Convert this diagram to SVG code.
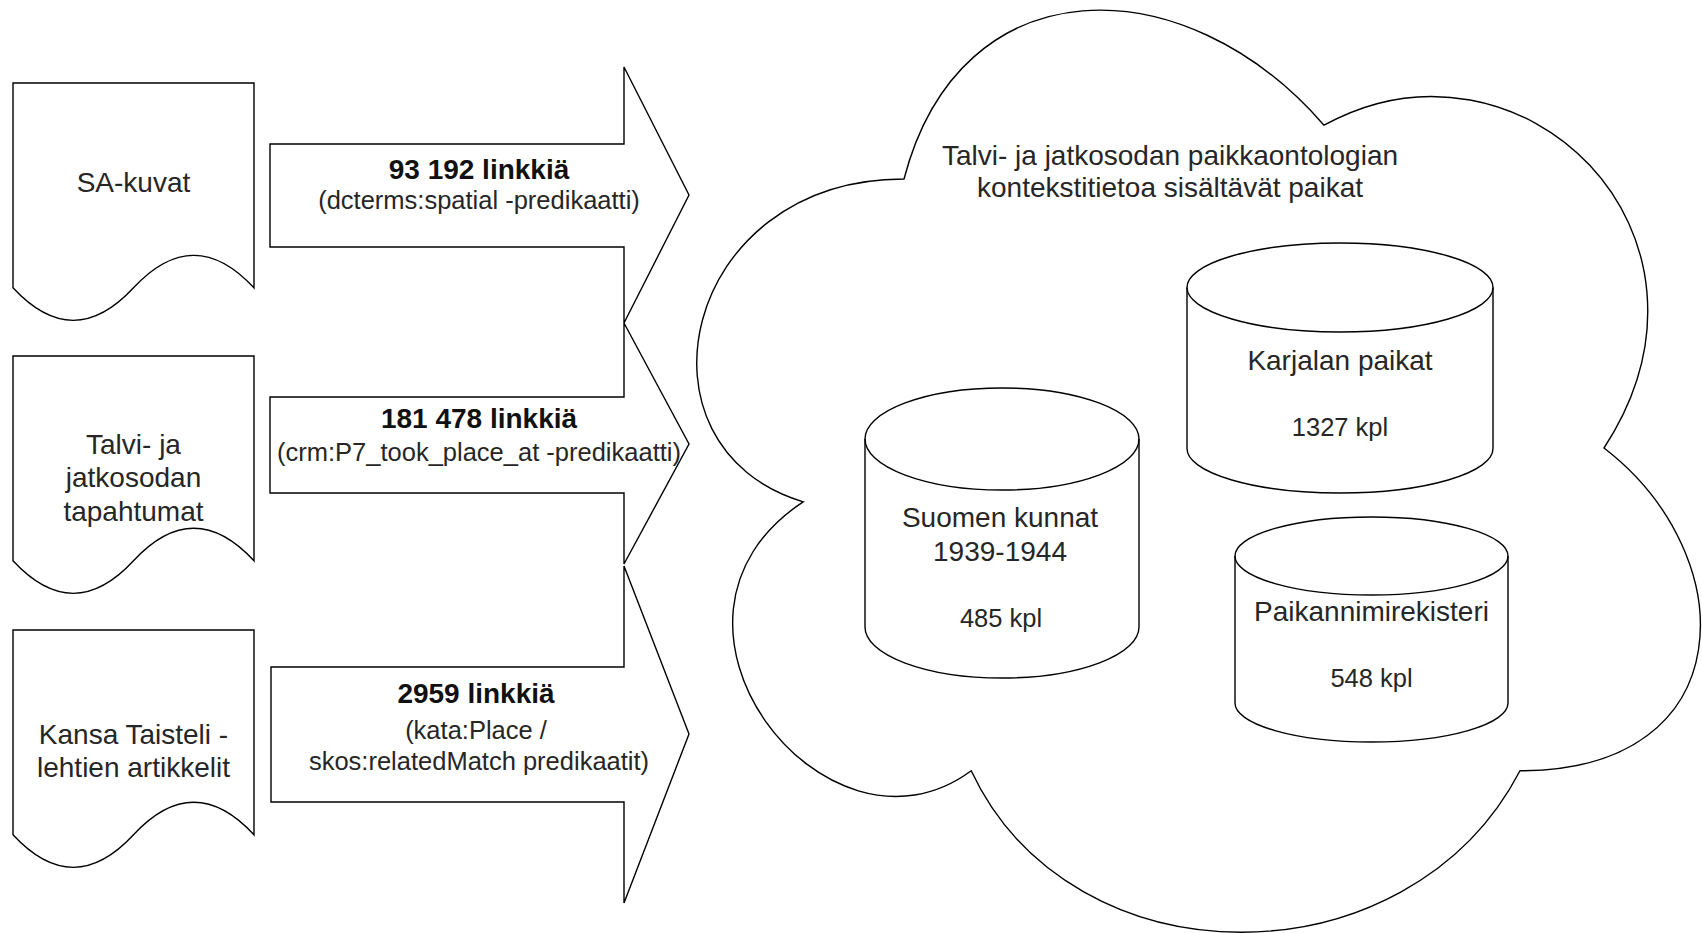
<svg xmlns="http://www.w3.org/2000/svg" width="1702" height="933" viewBox="0 0 1702 933">
<style>
.shape{fill:#ffffff;stroke:#000000;stroke-width:1.4;stroke-linejoin:miter}
.line{fill:none;stroke:#000000;stroke-width:1.4}
.t{font-family:"Liberation Sans",Arial,Helvetica,sans-serif;font-size:28px;fill:#262626;text-anchor:middle}
.b{font-family:"Liberation Sans",Arial,Helvetica,sans-serif;font-size:28px;font-weight:bold;fill:#111111;text-anchor:middle}
.s{font-family:"Liberation Sans",Arial,Helvetica,sans-serif;font-size:25.5px;fill:#262626;text-anchor:middle}
</style>
<rect x="0" y="0" width="1702" height="933" fill="#ffffff"/>

<g id="cloud">
<path class="shape" d="M904,179 C680,179 624,448 803.2,501.8 C624,620.16 825.6,878.4 971.2,770.8 C1072,986 1408,986 1520,770.8 C1744,770.8 1744,555.6 1604,448 C1744,232.8 1520,17.6 1324,125.2 C1184,-36.2 960,-36.2 904,179 Z"/>
<text class="t" x="1170" y="165">Talvi- ja jatkosodan paikkaontologian</text>
<text class="t" x="1170" y="197">kontekstitietoa sisältävät paikat</text>
</g>

<g id="karjalan-paikat">
<path class="shape" d="M1187,287.5 A153,44.5 0 0 1 1493,287.5 L1493,448.5 A153,44.5 0 0 1 1187,448.5 Z"/>
<path class="line" d="M1187,287.5 A153,44.5 0 0 0 1493,287.5"/>
<text class="t" x="1340" y="370">Karjalan paikat</text>
<text class="s" x="1340" y="436">1327 kpl</text>
</g>

<g id="suomen-kunnat">
<path class="shape" d="M865,439 A137,51 0 0 1 1139,439 L1139,627 A137,51 0 0 1 865,627 Z"/>
<path class="line" d="M865,439 A137,51 0 0 0 1139,439"/>
<text class="t" x="1000" y="527">Suomen kunnat</text>
<text class="t" x="1000" y="561">1939-1944</text>
<text class="s" x="1001" y="627">485 kpl</text>
</g>

<g id="paikannimirekisteri">
<path class="shape" d="M1235,556 A136.5,39 0 0 1 1508,556 L1508,703 A136.5,39 0 0 1 1235,703 Z"/>
<path class="line" d="M1235,556 A136.5,39 0 0 0 1508,556"/>
<text class="t" x="1371.5" y="621">Paikannimirekisteri</text>
<text class="s" x="1371.5" y="687">548 kpl</text>
</g>

<g id="sa-kuvat">
<path class="shape" d="M13,83 L254,83 L254,287.85 Q193.75,222.8 133.5,287.85 Q73.25,352.9 13,287.85 Z"/>
<text class="t" x="133.5" y="192">SA-kuvat</text>
</g>

<g id="tapahtumat">
<path class="shape" d="M13,356 L254,356 L254,560.85 Q193.75,495.8 133.5,560.85 Q73.25,625.9 13,560.85 Z"/>
<text class="t" x="133.5" y="454">Talvi- ja</text>
<text class="t" x="133.5" y="487">jatkosodan</text>
<text class="t" x="133.5" y="521">tapahtumat</text>
</g>

<g id="kansa-taisteli">
<path class="shape" d="M13,630 L254,630 L254,834.85 Q193.75,769.8 133.5,834.85 Q73.25,899.9 13,834.85 Z"/>
<text class="t" x="133.5" y="744">Kansa Taisteli -</text>
<text class="t" x="133.5" y="777">lehtien artikkelit</text>
</g>

<g id="connectors">
<g id="arrow-sa-kuvat">
<path class="shape" d="M270,144 L624,144 L624,67 L689,195 L624,323 L624,247 L270,247 Z"/>
<text class="b" x="479" y="179">93 192 linkkiä</text>
<text class="s" x="479" y="209">(dcterms:spatial -predikaatti)</text>
</g>
<g id="arrow-tapahtumat">
<path class="shape" d="M270,397 L624,397 L624,323 L689,444 L624,564 L624,493 L270,493 Z"/>
<text class="b" x="479" y="428">181 478 linkkiä</text>
<text class="s" x="479" y="461">(crm:P7_took_place_at -predikaatti)</text>
</g>
<g id="arrow-kansa-taisteli">
<path class="shape" d="M271,667 L624,667 L624,566 L689,734 L624,903 L624,802 L271,802 Z"/>
<text class="b" x="476" y="703">2959 linkkiä</text>
<text class="s" x="476" y="739">(kata:Place /</text>
<text class="s" x="479" y="770">skos:relatedMatch predikaatit)</text>
</g>
</g>
</svg>
